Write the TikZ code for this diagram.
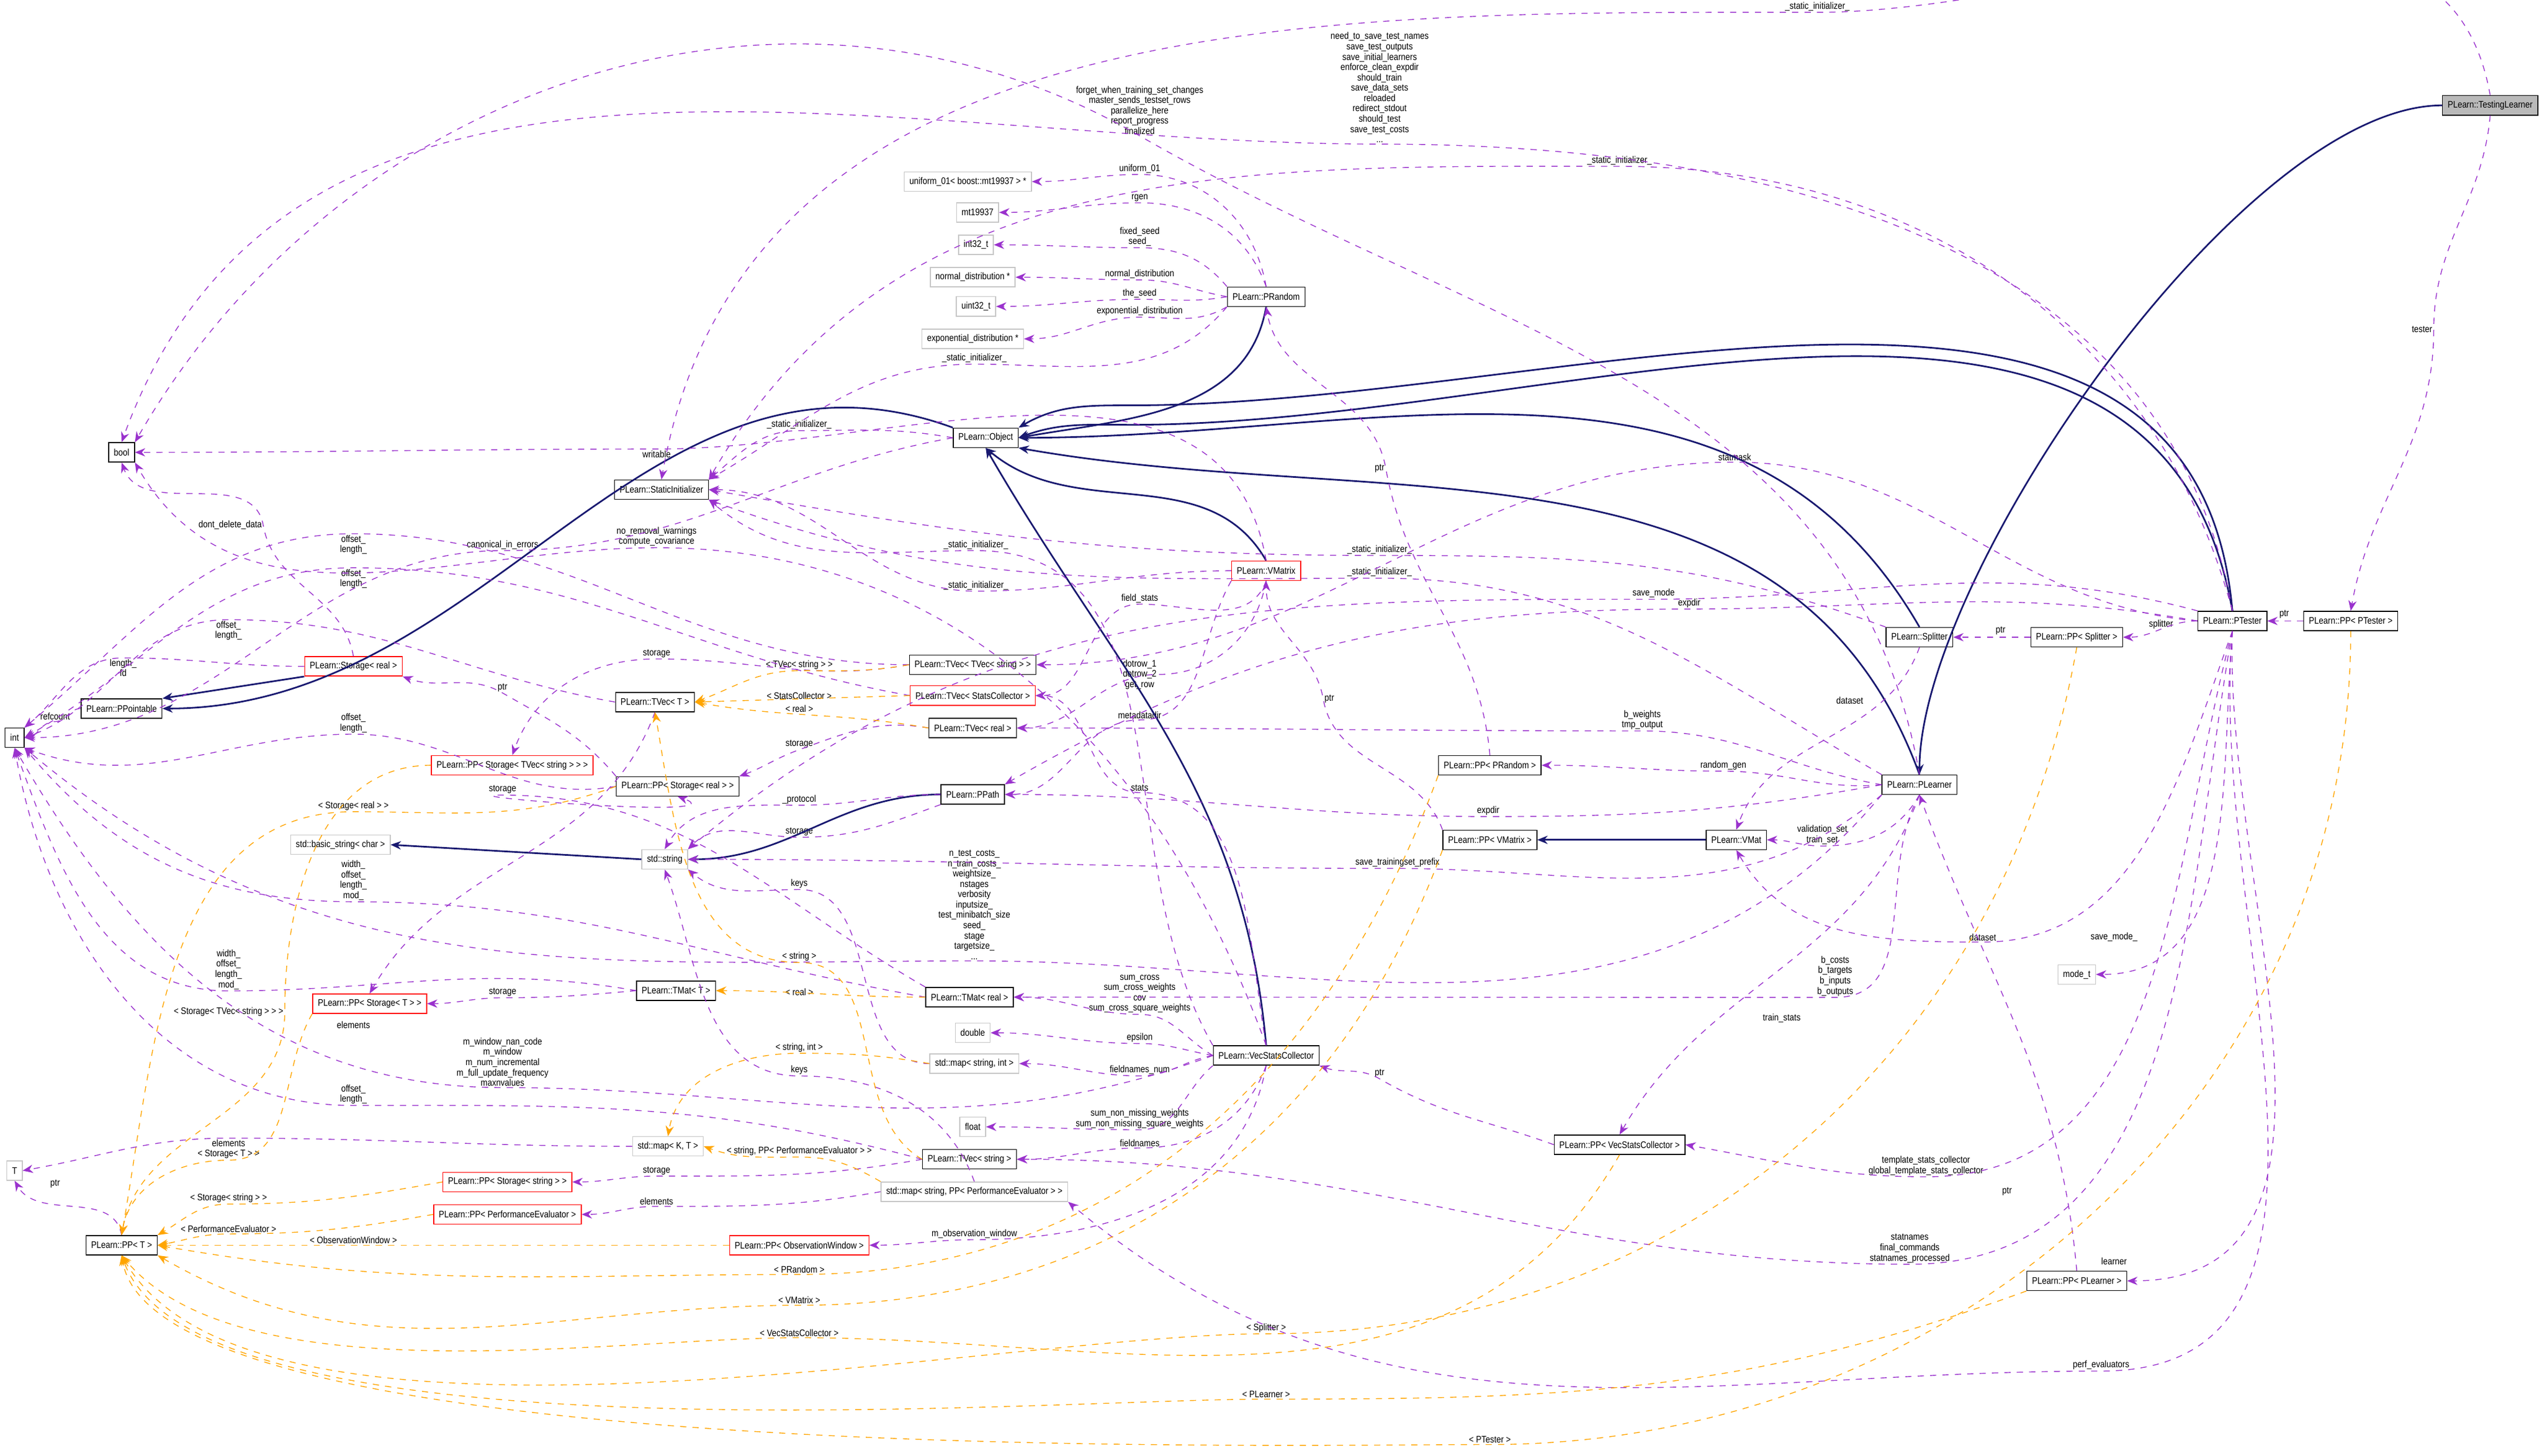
\documentclass[tikz,border=0pt]{standalone}
\usepackage{fontspec}
\setmainfont{Liberation Sans}[FakeStretch=0.86]
\usepackage{tikz}
\usetikzlibrary{positioning, arrows.meta, calc}
\definecolor{dxpurple}{HTML}{9A32CD}
\definecolor{dxnavy}{HTML}{191970}
\definecolor{dxorange}{HTML}{FFA500}
\newcommand{\dxfont}{\fontsize{4.6}{5.0}\selectfont}

\begin{document}
\begin{tikzpicture}[
    x=0.02758cm, y=0.02758cm,
    cls/.style={draw=black, fill=white, font=\dxfont, inner xsep=2.5pt, inner ysep=1.5pt, minimum height=9.4pt},
    ext/.style={cls, draw=gray!45},
    redcls/.style={cls, draw=red},
    focus/.style={cls, fill=gray!55},
    lbl/.style={font=\dxfont, align=center, inner sep=0.5pt},
    inh/.style={draw=dxnavy, thick, -{Stealth[length=5pt,width=4pt]}},
    use/.style={draw=dxpurple, dashed, thin, -{Stealth[length=5pt,width=4pt]}},
    tmpl/.style={draw=dxorange, dashed, thin, -{Stealth[length=5pt,width=4pt]}}
]
    \useasboundingbox (0,0) rectangle (1568,-898);

    % classes
    \node[focus] (testing) at (1536,-65) {PLearn::TestingLearner};
    \node[cls] (ptester) at (1377,-383) {PLearn::PTester};
    \node[cls] (pptester) at (1450,-383) {PLearn::PP< PTester >};
    \node[cls] (ppsplitter) at (1281,-393) {PLearn::PP< Splitter >};
    \node[cls] (splitter) at (1184,-393) {PLearn::Splitter};
    \node[cls] (plearner) at (1184,-484) {PLearn::PLearner};
    \node[cls] (vmat) at (1071,-518) {PLearn::VMat};
    \node[cls] (ppvmatrix) at (919,-518) {PLearn::PP< VMatrix >};
    \node[cls] (pprandom) at (919,-472) {PLearn::PP< PRandom >};
    \node[ext] (modet) at (1281,-601) {mode\_t};
    \node[cls] (ppvsc) at (999,-706) {PLearn::PP< VecStatsCollector >};
    \node[cls] (pplearner) at (1281,-790) {PLearn::PP< PLearner >};
    \node[cls] (vsc) at (781,-651) {PLearn::VecStatsCollector};
    \node[cls] (tvecstring) at (598,-715) {PLearn::TVec< string >};
    \node[ext] (mapperf) at (601,-735) {std::map< string, PP< PerformanceEvaluator > >};
    \node[redcls] (ppobs) at (493,-768) {PLearn::PP< ObservationWindow >};
    \node[redcls] (ppperf) at (313,-749) {PLearn::PP< PerformanceEvaluator >};
    \node[redcls] (ppstorstring) at (313,-729) {PLearn::PP< Storage< string > >};
    \node[ext] (mapkt) at (412,-707) {std::map< K, T >};
    \node[ext] (tparam) at (9,-722) {T};
    \node[cls] (ppt) at (75,-768) {PLearn::PP< T >};
    \node[ext] (float) at (600,-695) {float};
    \node[ext] (mapint) at (601,-656) {std::map< string, int >};
    \node[ext] (double) at (600,-637) {double};
    \node[cls] (tmatreal) at (598,-615) {PLearn::TMat< real >};
    \node[cls] (tmatt) at (417,-611) {PLearn::TMat< T >};
    \node[redcls] (ppstort) at (228,-619) {PLearn::PP< Storage< T > >};
    \node[ext] (string) at (410,-530) {std::string};
    \node[ext] (basicstring) at (210,-521) {std::basic\_string< char >};
    \node[redcls] (ppstortvec) at (316,-472) {PLearn::PP< Storage< TVec< string > > >};
    \node[cls] (ppstorreal) at (418,-485) {PLearn::PP< Storage< real > >};
    \node[cls] (ppath) at (600,-490) {PLearn::PPath};
    \node[cls] (tvecreal) at (600,-449) {PLearn::TVec< real >};
    \node[redcls] (tvecstats) at (600,-429) {PLearn::TVec< StatsCollector >};
    \node[cls] (tvectvec) at (600,-410) {PLearn::TVec< TVec< string > >};
    \node[cls] (tvect) at (404,-433) {PLearn::TVec< T >};
    \node[redcls] (storreal) at (218,-411) {PLearn::Storage< real >};
    \node[cls] (ppointable) at (75,-437) {PLearn::PPointable};
    \node[cls] (int) at (9,-455) {int};
    \node[cls] (bool) at (75,-279) {bool};
    \node[cls] (statinit) at (408,-302) {PLearn::StaticInitializer};
    \node[cls] (object) at (608,-270) {PLearn::Object};
    \node[cls] (prandom) at (781,-183) {PLearn::PRandom};
    \node[redcls] (vmatrix) at (781,-352) {PLearn::VMatrix};
    \node[ext] (uniform) at (597,-112) {uniform\_01< boost::mt19937 > *};
    \node[ext] (mt) at (603,-131) {mt19937};
    \node[ext] (int32) at (602,-151) {int32\_t};
    \node[ext] (normal) at (600,-171) {normal\_distribution *};
    \node[ext] (uint32) at (602,-189) {uint32\_t};
    \node[ext] (expo) at (600,-209) {exponential\_distribution *};

    % edge labels
    \node[lbl] (l01) at (1121,-4) {\_static\_initializer\_};
    \node[lbl] (l02) at (851,-54) {need\_to\_save\_test\_names\\save\_test\_outputs\\save\_initial\_learners\\enforce\_clean\_expdir\\should\_train\\save\_data\_sets\\reloaded\\redirect\_stdout\\should\_test\\save\_test\_costs\\...};
    \node[lbl] (l03) at (703,-68) {forget\_when\_training\_set\_changes\\master\_sends\_testset\_rows\\parallelize\_here\\report\_progress\\finalized};
    \node[lbl] (l04) at (999,-99) {\_static\_initializer\_};
    \node[lbl] (l05) at (1494,-203) {tester};
    \node[lbl] (l06) at (703,-104) {uniform\_01};
    \node[lbl] (l07) at (703,-122) {rgen};
    \node[lbl] (l08) at (703,-146) {fixed\_seed\\seed\_};
    \node[lbl] (l09) at (703,-169) {normal\_distribution};
    \node[lbl] (l10) at (703,-181) {the\_seed};
    \node[lbl] (l11) at (703,-192) {exponential\_distribution};
    \node[lbl] (l12) at (601,-221) {\_static\_initializer\_};
    \node[lbl] (l13) at (1070,-282) {statmask};
    \node[lbl] (l14) at (851,-289) {ptr};
    \node[lbl] (l15) at (493,-262) {\_static\_initializer\_};
    \node[lbl] (l16) at (405,-280) {writable};
    \node[lbl] (l17) at (142,-324) {dont\_delete\_data};
    \node[lbl] (l18) at (405,-331) {no\_removal\_warnings\\compute\_covariance};
    \node[lbl] (l19) at (310,-336) {canonical\_in\_errors};
    \node[lbl] (l20) at (602,-336) {\_static\_initializer\_};
    \node[lbl] (l21) at (851,-339) {\_static\_initializer\_};
    \node[lbl] (l22) at (851,-353) {\_static\_initializer\_};
    \node[lbl] (l23) at (218,-336) {offset\_\\length\_};
    \node[lbl] (l24) at (218,-357) {offset\_\\length\_};
    \node[lbl] (l25) at (602,-361) {\_static\_initializer\_};
    \node[lbl] (l26) at (703,-369) {field\_stats};
    \node[lbl] (l27) at (1020,-366) {save\_mode};
    \node[lbl] (l28) at (1042,-372) {expdir};
    \node[lbl] (l29) at (141,-389) {offset\_\\length\_};
    \node[lbl] (l30) at (405,-403) {storage};
    \node[lbl] (l31) at (76,-412) {length\_\\fd};
    \node[lbl] (l32) at (493,-410) {< TVec< string > >};
    \node[lbl] (l33) at (703,-416) {dotrow\_1\\dotrow\_2\\get\_row};
    \node[lbl] (l34) at (310,-424) {ptr};
    \node[lbl] (l35) at (493,-429) {< StatsCollector >};
    \node[lbl] (l36) at (493,-437) {< real >};
    \node[lbl] (l37) at (34,-442) {refcount};
    \node[lbl] (l38) at (703,-441) {metadatadir};
    \node[lbl] (l39) at (218,-446) {offset\_\\length\_};
    \node[lbl] (l40) at (493,-459) {storage};
    \node[lbl] (l41) at (1141,-432) {dataset};
    \node[lbl] (l42) at (820,-431) {ptr};
    \node[lbl] (l43) at (1013,-444) {b\_weights\\tmp\_output};
    \node[lbl] (l44) at (1063,-472) {random\_gen};
    \node[lbl] (l45) at (310,-487) {storage};
    \node[lbl] (l46) at (703,-486) {stats};
    \node[lbl] (l47) at (218,-497) {< Storage< real > >};
    \node[lbl] (l48) at (493,-493) {\_protocol};
    \node[lbl] (l49) at (918,-500) {expdir};
    \node[lbl] (l50) at (1124,-515) {validation\_set\\train\_set};
    \node[lbl] (l51) at (493,-513) {storage};
    \node[lbl] (l52) at (862,-532) {save\_trainingset\_prefix};
    \node[lbl] (l53) at (218,-543) {width\_\\offset\_\\length\_\\mod\_};
    \node[lbl] (l54) at (601,-558) {n\_test\_costs\_\\n\_train\_costs\_\\weightsize\_\\nstages\\verbosity\\inputsize\_\\test\_minibatch\_size\\seed\_\\stage\\targetsize\_\\...};
    \node[lbl] (l55) at (493,-545) {keys};
    \node[lbl] (l56) at (1223,-578) {dataset};
    \node[lbl] (l57) at (1304,-578) {save\_mode\_};
    \node[lbl] (l58) at (1132,-602) {b\_costs\\b\_targets\\b\_inputs\\b\_outputs};
    \node[lbl] (l59) at (141,-598) {width\_\\offset\_\\length\_\\mod\_};
    \node[lbl] (l60) at (493,-590) {< string >};
    \node[lbl] (l61) at (310,-612) {storage};
    \node[lbl] (l62) at (493,-612) {< real >};
    \node[lbl] (l63) at (703,-613) {sum\_cross\\sum\_cross\_weights\\cov\\sum\_cross\_square\_weights};
    \node[lbl] (l64) at (141,-624) {< Storage< TVec< string > > >};
    \node[lbl] (l65) at (218,-632) {elements};
    \node[lbl] (l66) at (1099,-628) {train\_stats};
    \node[lbl] (l67) at (703,-640) {epsilon};
    \node[lbl] (l68) at (310,-655) {m\_window\_nan\_code\\m\_window\\m\_num\_incremental\\m\_full\_update\_frequency\\maxnvalues};
    \node[lbl] (l69) at (493,-646) {< string, int >};
    \node[lbl] (l70) at (703,-660) {fieldnames\_num};
    \node[lbl] (l71) at (493,-660) {keys};
    \node[lbl] (l72) at (851,-662) {ptr};
    \node[lbl] (l73) at (218,-675) {offset\_\\length\_};
    \node[lbl] (l74) at (703,-690) {sum\_non\_missing\_weights\\sum\_non\_missing\_square\_weights};
    \node[lbl] (l75) at (141,-705) {elements};
    \node[lbl] (l76) at (703,-705) {fieldnames};
    \node[lbl] (l77) at (493,-710) {< string, PP< PerformanceEvaluator > >};
    \node[lbl] (l78) at (141,-712) {< Storage< T > >};
    \node[lbl] (l79) at (1188,-719) {template\_stats\_collector\\global\_template\_stats\_collector};
    \node[lbl] (l80) at (405,-722) {storage};
    \node[lbl] (l81) at (34,-730) {ptr};
    \node[lbl] (l82) at (1238,-735) {ptr};
    \node[lbl] (l83) at (141,-739) {< Storage< string > >};
    \node[lbl] (l84) at (405,-741) {elements};
    \node[lbl] (l85) at (141,-758) {< PerformanceEvaluator >};
    \node[lbl] (l86) at (601,-761) {m\_observation\_window};
    \node[lbl] (l87) at (218,-765) {< ObservationWindow >};
    \node[lbl] (l88) at (1178,-770) {statnames\\final\_commands\\statnames\_processed};
    \node[lbl] (l89) at (1304,-778) {learner};
    \node[lbl] (l90) at (493,-783) {< PRandom >};
    \node[lbl] (l91) at (493,-802) {< VMatrix >};
    \node[lbl] (l92) at (781,-819) {< Splitter >};
    \node[lbl] (l93) at (493,-822) {< VecStatsCollector >};
    \node[lbl] (l94) at (1296,-842) {perf\_evaluators};
    \node[lbl] (l95) at (781,-860) {< PLearner >};
    \node[lbl] (l96) at (919,-888) {< PTester >};
    \node[lbl] (l97) at (1234,-389) {ptr};
    \node[lbl] (l98) at (1333,-385) {splitter};
    \node[lbl] (l99) at (1409,-379) {ptr};

    % inheritance
    \draw[inh] (testing.west) to[out=180,in=90,looseness=0.6] (plearner.north);
    \draw[inh] (prandom.south) to[out=260,in=10] (object.east);
    \draw[inh] (ptester.north) to[out=95,in=0] ($(object.east)+(70,20)$) to[out=180,in=30] (object.north east);
    \draw[inh] (ptester.north) to[out=100,in=0] ($(object.east)+(70,8)$) to[out=180,in=20] (object.east);
    \draw[inh] (splitter.north) to[out=120,in=0] (object.east);
    \draw[inh] (plearner.north) to[out=110,in=-10] (object.south east);
    \draw[inh] (vmatrix.north) to[out=120,in=-40] (object.south);
    \draw[inh] (vsc.north) to[out=95,in=-60] (object.south);
    \draw[inh] (object.north west) to[out=160,in=0] (ppointable.east);
    \draw[inh] (storreal.south west) -- (ppointable.north east);
    \draw[inh] (string.west) -- (basicstring.east);
    \draw[inh] (ppath.west) to[out=180,in=0] (string.east);
    \draw[inh] (vmat.west) -- (ppvmatrix.east);

    % collaboration
    \draw[use] (testing.north) to[out=100,in=0] (l01.south) to[out=180,in=80] (statinit.north);
    \draw[use] (testing.south) to[out=265,in=90] (l05.east) to[out=270,in=80] (pptester.north);
    \draw[use] (ptester.north) to[out=100,in=0] (l02.south) to[out=180,in=70] (bool.north);
    \draw[use] (plearner.north) to[out=100,in=-30] (l03.south) to[out=150,in=60] (bool.north east);
    \draw[use] (ptester.north) to[out=105,in=0] (l04.south) to[out=180,in=60] (statinit.north east);
    \draw[use] (prandom.north) to[out=100,in=0] (l06.south) to[out=180,in=0] (uniform.east);
    \draw[use] (prandom.north) to[out=110,in=0] (l07.south) to[out=180,in=0] (mt.east);
    \draw[use] (prandom.north west) to[out=130,in=0] (l08.south) to[out=180,in=0] (int32.east);
    \draw[use] (prandom.west) to[out=170,in=0] (l09.south) to[out=180,in=0] (normal.east);
    \draw[use] (prandom.west) to[out=190,in=0] (l10.south) to[out=180,in=0] (uint32.east);
    \draw[use] (prandom.south west) to[out=210,in=0] (l11.south) to[out=180,in=0] (expo.east);
    \draw[use] (prandom.south west) to[out=230,in=0] (l12.south) to[out=180,in=30] (statinit.north east);
    \draw[use] (object.west) to[out=170,in=0] (l15.south) to[out=180,in=40] (statinit.north east);
    \draw[use] (vmatrix.north) to[out=100,in=0] (l16.north) to[out=180,in=0] (bool.east);
    \draw[use] (vmatrix.west) to[out=180,in=0] (l25.south) to[out=180,in=0] (statinit.east);
    \draw[use] (splitter.north west) to[out=160,in=0] (l21.south) to[out=180,in=-10] (statinit.east);
    \draw[use] (plearner.north west) to[out=150,in=0] (l22.south) to[out=180,in=-20] (statinit.south east);
    \draw[use] (vsc.north west) to[out=120,in=0] (l20.south) to[out=180,in=-40] (statinit.south east);
    \draw[use] (ptester.west) to[out=175,in=0] (l13.south) to[out=180,in=0] (tvectvec.east);
    \draw[use] (vmatrix.south) to[out=250,in=0] (l26.south) to[out=180,in=0] (tvecstats.east);
    \draw[use] (vmatrix.south) to[out=260,in=0] (l33.east) to[out=180,in=0] (tvecreal.east);
    \draw[use] (vmatrix.south west) to[out=240,in=0] (l38.south) to[out=180,in=0] (ppath.east);
    \draw[use] (vsc.north) to[out=110,in=0] (l18.south) to[out=180,in=-60] (bool.south east);
    \draw[use] (vsc.north) to[out=100,in=0] (l46.south) to[out=180,in=0] (tvecstats.east);
    \draw[use] (ptester.west) to[out=180,in=0] (ppsplitter.east);
    \draw[use] (ppsplitter.west) -- (splitter.east);
    \draw[use] (pptester.west) -- (ptester.east);
    \draw[use] (splitter.south) to[out=250,in=70] (vmat.north);
    \draw[use] (ptester.south) to[out=265,in=0] (modet.east);
    \draw[use] (ptester.south) to[out=268,in=0] (pplearner.east);
    \draw[use] (pplearner.north) to[out=95,in=-70] (plearner.south);
    \draw[use] (plearner.west) to[out=185,in=0] (l44.south) to[out=180,in=0] (pprandom.east);
    \draw[use] (pprandom.north) to[out=95,in=-80] (l14.east) to[out=100,in=-80] (prandom.south);
    \draw[use] (ppvmatrix.north west) to[out=110,in=-80] (l42.west) to[out=100,in=-90] (vmatrix.south);
    \draw[use] (plearner.south) to[out=240,in=0] (l50.south) to[out=180,in=0] (vmat.east);
    \draw[use] (ptester.south) to[out=250,in=0] (l56.south) to[out=180,in=-60] (vmat.south);
    \draw[use] (plearner.west) to[out=170,in=0] (l43.south) to[out=180,in=0] (tvecreal.east);
    \draw[use] (plearner.west) to[out=190,in=0] (l49.south) to[out=180,in=0] (ppath.east);
    \draw[use] (ptester.west) to[out=170,in=0] (l28.south) to[out=180,in=30] (ppath.north east);
    \draw[use] (ptester.north west) to[out=165,in=0] (l27.south) to[out=180,in=40] (string.north east);
    \draw[use] (plearner.south west) to[out=220,in=0] (l52.south) to[out=180,in=0] (string.east);
    \draw[use] (plearner.south west) to[out=230,in=0] (l54.south) to[out=180,in=-40] (int.south east);
    \draw[use] (plearner.south) to[out=240,in=0] (l58.south) to[out=180,in=0] (tmatreal.east);
    \draw[use] (plearner.south) to[out=250,in=60] (ppvsc.north);
    \draw[use] (ppvsc.west) to[out=160,in=-30] (l72.south) to[out=150,in=-20] (vsc.south east);
    \draw[use] (ptester.south) to[out=255,in=0] (l79.south) to[out=180,in=-10] (ppvsc.east);
    \draw[use] (ptester.south) to[out=260,in=0] (l88.south) to[out=180,in=0] (tvecstring.east);
    \draw[use] (ptester.south) to[out=265,in=0] (l94.south) to[out=180,in=-40] (mapperf.south east);
    \draw[use] (vsc.west) to[out=150,in=0] (l63.south) to[out=180,in=0] (tmatreal.east);
    \draw[use] (vsc.west) to[out=170,in=0] (l67.south) to[out=180,in=0] (double.east);
    \draw[use] (vsc.west) to[out=190,in=0] (l70.south) to[out=180,in=0] (mapint.east);
    \draw[use] (vsc.south west) to[out=220,in=0] (l74.south) to[out=180,in=0] (float.east);
    \draw[use] (vsc.south) to[out=250,in=0] (l76.south) to[out=180,in=0] (tvecstring.east);
    \draw[use] (vsc.south) to[out=260,in=0] (l86.south) to[out=180,in=0] (ppobs.east);
    \draw[use] (vsc.west) to[out=200,in=0] (l68.south) to[out=180,in=-60] (int.south);
    \draw[use] (tvectvec.west) to[out=180,in=0] (l23.north) to[out=180,in=40] (int.north east);
    \draw[use] (tvectvec.west) to[out=190,in=0] (l30.south) to[out=180,in=70] (ppstortvec.north);
    \draw[use] (tvecstats.west) to[out=170,in=0] (l24.north) to[out=180,in=30] (int.east);
    \draw[use] (tvecreal.west) to[out=170,in=20] (l40.south) to[out=200,in=20] (ppstorreal.north east);
    \draw[use] (tvect.west) to[out=170,in=0] (l29.north) to[out=180,in=20] (int.east);
    \draw[use] (tvect.south) to[out=250,in=60] (ppstort.north);
    \draw[use] (storreal.west) to[out=180,in=0] (l31.north) to[out=180,in=40] (int.north east);
    \draw[use] (storreal.north) to[out=100,in=-80] (l17.east) to[out=100,in=-70] (bool.south);
    \draw[use] (ppointable.west) to[out=180,in=0] (l37.south) to[out=180,in=10] (int.east);
    \draw[use] (ppstorreal.north west) to[out=130,in=-30] (l34.south) to[out=150,in=-20] (storreal.south east);
    \draw[use] (object.west) to[out=190,in=0] (l19.south) to[out=180,in=0] (int.east);
    \draw[use] (ppath.west) to[out=180,in=0] (l48.south) to[out=180,in=60] (string.north);
    \draw[use] (ppath.south west) to[out=200,in=0] (l51.south) to[out=180,in=45] (string.north east);
    \draw[use] (mapint.west) to[out=180,in=0] (l55.south) to[out=180,in=-40] (string.south east);
    \draw[use] (mapperf.north) to[out=110,in=0] (l71.south) to[out=180,in=-70] (string.south);
    \draw[use] (ppstorreal.west) to[out=190,in=0] (l39.south) to[out=180,in=-20] (int.south east);
    \draw[use] (tmatt.west) to[out=170,in=0] (l59.south) to[out=180,in=-70] (int.south);
    \draw[use] (tmatt.west) to[out=185,in=0] (l61.south) to[out=180,in=0] (ppstort.east);
    \draw[use] (tmatreal.west) to[out=170,in=0] (l53.south) to[out=180,in=-50] (int.south east);
    \draw[use] (tmatreal.north west) to[out=150,in=0] (l45.south) to[out=180,in=-20] (ppstorreal.south);
    \draw[use] (tvecstring.west) to[out=165,in=0] (l73.south) to[out=180,in=-80] (int.south);
    \draw[use] (tvecstring.west) to[out=190,in=0] (l80.south) to[out=180,in=0] (ppstorstring.east);
    \draw[use] (mapperf.west) to[out=190,in=0] (l84.south) to[out=180,in=0] (ppperf.east);
    \draw[use] (mapkt.west) to[out=180,in=0] (l75.north) to[out=180,in=10] (tparam.east);
    \draw[use] (ppt.north) to[out=100,in=-60] (tparam.south);

    % template instances
    \draw[tmpl] (tvectvec.west) to[out=190,in=0] (l32.south) to[out=180,in=20] (tvect.east);
    \draw[tmpl] (tvecstats.west) -- (tvect.east);
    \draw[tmpl] (tvecreal.west) to[out=170,in=-10] (tvect.east);
    \draw[tmpl] (tvecstring.west) to[out=150,in=0] (l60.south) to[out=180,in=-80] (tvect.south);
    \draw[tmpl] (tmatreal.west) to[out=180,in=0] (tmatt.east);
    \draw[tmpl] (mapint.west) to[out=170,in=0] (l69.south) to[out=180,in=80] (mapkt.north);
    \draw[tmpl] (mapperf.north west) to[out=150,in=0] (l77.south) to[out=180,in=-20] (mapkt.east);
    \draw[tmpl] (ppstortvec.west) to[out=180,in=90] (l64.east) to[out=270,in=80] (ppt.north);
    \draw[tmpl] (ppstorreal.west) to[out=200,in=0] (l47.south) to[out=180,in=80] (ppt.north);
    \draw[tmpl] (ppstort.south west) to[out=240,in=0] (l78.south) to[out=180,in=80] (ppt.north);
    \draw[tmpl] (ppstorstring.west) to[out=190,in=0] (l83.south) to[out=180,in=30] (ppt.north east);
    \draw[tmpl] (ppperf.west) to[out=190,in=0] (l85.south) to[out=180,in=10] (ppt.east);
    \draw[tmpl] (ppobs.west) -- (ppt.east);
    \draw[tmpl] (pprandom.south west) to[out=250,in=0] (l90.south) to[out=180,in=-10] (ppt.east);
    \draw[tmpl] (ppvmatrix.south west) to[out=250,in=0] (l91.south) to[out=180,in=-30] (ppt.south east);
    \draw[tmpl] (ppvsc.south) to[out=240,in=0] (l93.south) to[out=180,in=-50,looseness=0.7] (ppt.south);
    \draw[tmpl] (ppsplitter.south) to[out=260,in=0] (l92.south) to[out=180,in=-60,looseness=0.6] (ppt.south);
    \draw[tmpl] (pplearner.south west) to[out=200,in=0] (l95.south) to[out=180,in=-70,looseness=0.5] (ppt.south);
    \draw[tmpl] (pptester.south) to[out=270,in=0] (l96.south) to[out=180,in=-80,looseness=0.4] (ppt.south);
\end{tikzpicture}
\end{document}
